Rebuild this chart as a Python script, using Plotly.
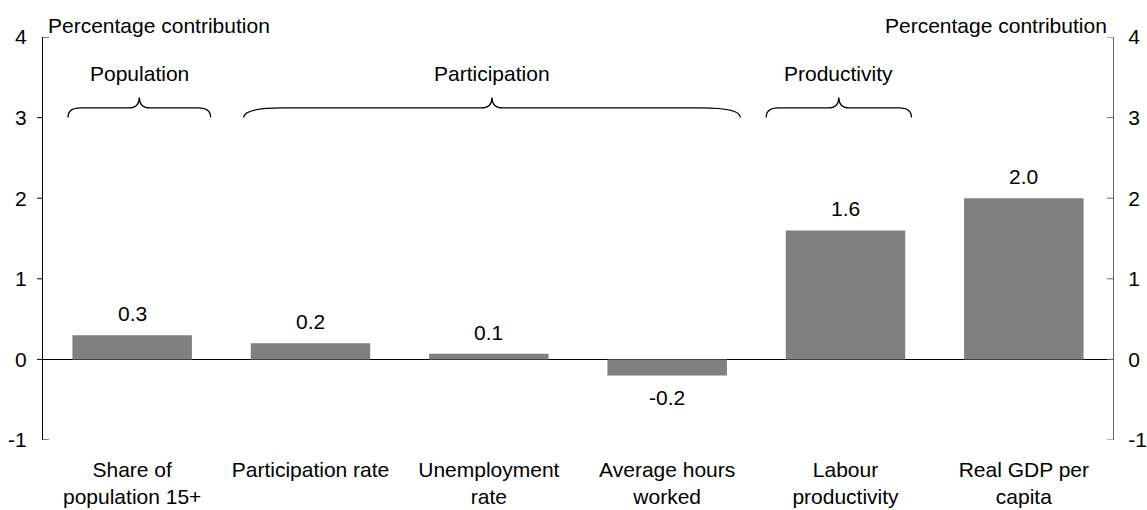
import plotly.graph_objects as go

categories = ["Share of<br>population 15+", "Participation rate", "Unemployment<br>rate",
              "Average hours<br>worked", "Labour<br>productivity", "Real GDP per<br>capita"]
values = [0.3, 0.2, 0.07, -0.2, 1.6, 2.0]
y_ticks = [-1, 0, 1, 2, 3, 4]
y_tick_text = ["-1", "0", "1", "2", "3", "4"]
groups = ["Population", "Participation", "Productivity"]
# brace spans in category-index units (start, end)
group_spans = [(-0.36, 0.44), (0.625, 3.41), (3.555, 4.37)]

FONT = "Liberation Sans, Arial, sans-serif"
FS = 21
BAR = "#808080"
xs = list(range(len(categories)))

fig = go.Figure()
fig.add_trace(go.Bar(x=xs, y=values, marker=dict(color=BAR, line=dict(width=0)),
                     width=0.67, showlegend=False, hoverinfo="skip"))
fig.add_trace(go.Scatter(x=[0], y=[0], yaxis="y2", mode="markers",
                         marker=dict(opacity=0), showlegend=False, hoverinfo="skip"))

annotations = []
for x, v in zip(xs, values):
    annotations.append(dict(x=x, y=v, text=f"{v:.1f}", showarrow=False,
                            yanchor="bottom" if v >= 0 else "top",
                            yshift=8 if v >= 0 else -8,
                            font=dict(size=FS, color="black", family=FONT)))

annotations.append(dict(xref="paper", yref="paper", x=0, y=1, xanchor="left", yanchor="middle",
                        xshift=3, yshift=12, text="Percentage contribution", showarrow=False,
                        font=dict(size=FS, color="black", family=FONT)))
annotations.append(dict(xref="paper", yref="paper", x=1, y=1, xanchor="right", yanchor="middle",
                        xshift=-4, yshift=12, text="Percentage contribution", showarrow=False,
                        font=dict(size=FS, color="black", family=FONT)))

shapes = []
y_end, y_line, y_tip, y_lab = 3.0, 3.12, 3.25, 3.55
for name, (a, b) in zip(groups, group_spans):
    m = (a + b) / 2
    span = b - a
    r = 0.07 if span < 1.5 else 0.22
    rt = 0.06
    path = (f"M {a},{y_end} Q {a},{y_line} {a + r},{y_line} L {m - rt},{y_line} "
            f"Q {m},{y_line} {m},{y_tip} Q {m},{y_line} {m + rt},{y_line} "
            f"L {b - r},{y_line} Q {b},{y_line} {b},{y_end}")
    shapes.append(dict(type="path", path=path, xref="x", yref="y",
                       line=dict(color="black", width=1.3)))
    annotations.append(dict(x=m, y=y_lab, text=name, showarrow=False, yanchor="middle",
                            font=dict(size=FS, color="black", family=FONT)))

# axis tick marks: left axis outside for interior ticks, inside at the ends; right axis inside
for t in y_ticks:
    if t in (y_ticks[0], y_ticks[-1]):
        shapes.append(dict(type="line", xref="paper", yref="y", xsizemode="pixel", xanchor=0,
                           x0=0, x1=6, y0=t, y1=t, line=dict(color="black", width=1)))
    else:
        shapes.append(dict(type="line", xref="paper", yref="y", xsizemode="pixel", xanchor=0,
                           x0=-6, x1=0, y0=t, y1=t, line=dict(color="black", width=1)))
    shapes.append(dict(type="line", xref="paper", yref="y", xsizemode="pixel", xanchor=1,
                       x0=-6, x1=0, y0=t, y1=t, line=dict(color="#666666", width=1)))

fig.update_layout(
    width=1147, height=510,
    margin=dict(l=43, r=34, t=37, b=70),
    paper_bgcolor="white", plot_bgcolor="white",
    font=dict(family=FONT, size=FS, color="black"),
    xaxis=dict(range=[-0.5, 5.5], tickvals=xs, ticktext=categories, showgrid=False,
               zeroline=False, showline=False, ticks="", ticklabelstandoff=15,
               automargin=False, tickfont=dict(size=FS, family=FONT, color="black")),
    yaxis=dict(range=[-1, 4], tickvals=y_ticks, ticktext=y_tick_text, showgrid=False,
               zeroline=True, zerolinecolor="black", zerolinewidth=1, showline=True,
               linecolor="black", linewidth=1, ticks="outside", ticklen=5,
               tickcolor="rgba(0,0,0,0)", ticklabelstandoff=6, automargin=False,
               tickfont=dict(size=FS, family=FONT, color="black")),
    yaxis2=dict(range=[-1, 4], tickvals=y_ticks, ticktext=y_tick_text, overlaying="y",
                side="right", anchor="x", showgrid=False, zeroline=False, showline=True,
                linecolor="#666666", linewidth=1, ticks="outside", ticklen=5,
                tickcolor="rgba(0,0,0,0)", ticklabelstandoff=5, automargin=False,
                tickfont=dict(size=FS, family=FONT, color="black")),
    annotations=annotations,
    shapes=shapes,
)

fig.write_html("out.html", config={"displayModeBar": False},
               post_script="document.body.style.margin='0';")
